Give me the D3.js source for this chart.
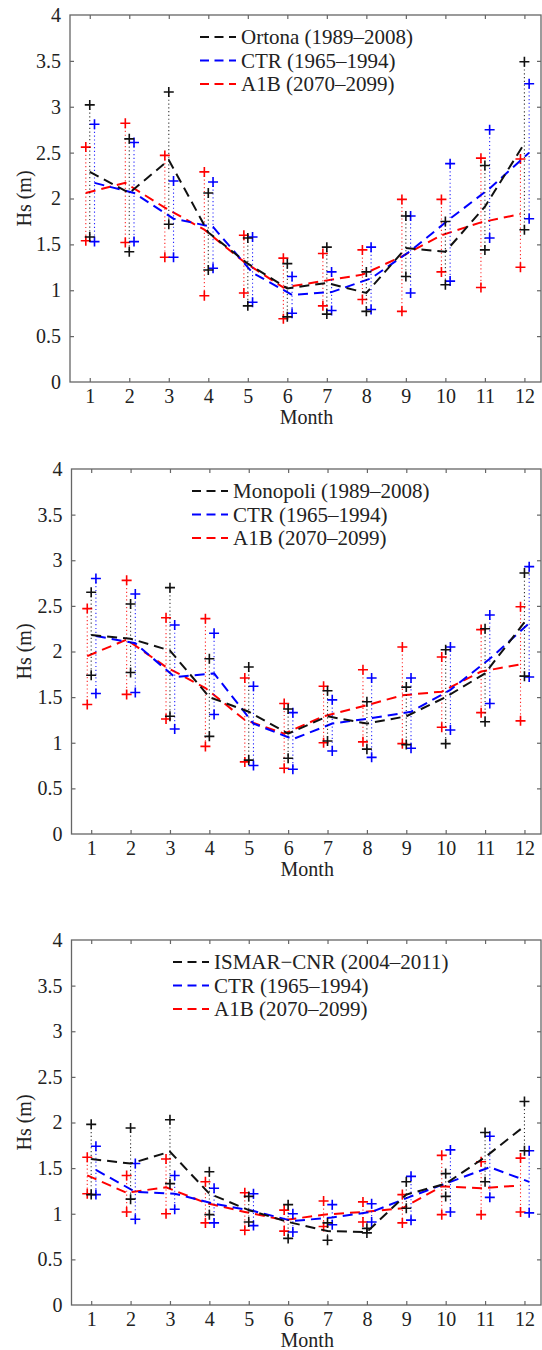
<!DOCTYPE html>
<html><head><meta charset="utf-8">
<script src="https://cdn.jsdelivr.net/npm/d3@7"></script>
<style>body{margin:0;background:#fff}svg{display:block}svg text{font-family:"Liberation Serif","Times New Roman",Times,"DejaVu Serif",serif !important}</style>
</head><body>
<script>
const months = [1,2,3,4,5,6,7,8,9,10,11,12];
const yTicks = [0,0.5,1,1.5,2,2.5,3,3.5,4];
const legendLabels1 = ["Ortona (1989\u20132008)", "CTR (1965\u20131994)", "A1B (2070\u20132099)"];
const legendLabels2 = ["Monopoli (1989\u20132008)", "CTR (1965\u20131994)", "A1B (2070\u20132099)"];
const legendLabels3 = ["ISMAR\u2212CNR (2004\u20132011)", "CTR (1965\u20131994)", "A1B (2070\u20132099)"];

// Panel 1: Ortona
const ortObsMean = [2.29,2.06,2.42,1.63,1.29,1.02,1.08,0.97,1.46,1.42,1.91,2.60];
const ortObsMax  = [3.02,2.65,3.16,2.06,1.57,1.29,1.47,1.20,1.81,1.75,2.36,3.49];
const ortObsMin  = [1.58,1.42,1.72,1.22,0.83,0.71,0.74,0.77,1.15,1.06,1.44,1.66];
const ortCtrMean = [2.17,2.06,1.78,1.69,1.19,0.95,0.98,1.13,1.43,1.78,2.11,2.50];
const ortCtrMax  = [2.81,2.61,2.19,2.18,1.58,1.15,1.20,1.47,1.81,2.38,2.75,3.25];
const ortCtrMin  = [1.53,1.53,1.36,1.24,0.87,0.75,0.78,0.79,0.97,1.10,1.57,1.78];
const ortA1bMean = [2.06,2.17,1.90,1.66,1.31,1.03,1.10,1.17,1.37,1.60,1.74,1.83];
const ortA1bMax  = [2.56,2.82,2.47,2.29,1.60,1.35,1.40,1.44,1.99,1.99,2.44,2.43];
const ortA1bMin  = [1.54,1.52,1.36,0.94,0.97,0.69,0.83,0.90,0.77,1.20,1.03,1.25];

// Panel 2: Monopoli
const monObsMean = [2.18,2.14,2.01,1.50,1.34,1.10,1.29,1.21,1.29,1.50,1.76,2.32];
const monObsMax  = [2.65,2.52,2.70,1.92,1.83,1.37,1.57,1.45,1.61,2.02,2.25,2.86];
const monObsMin  = [1.74,1.77,1.29,1.07,0.81,0.83,1.02,0.93,0.98,0.99,1.23,1.73];
const monCtrMean = [2.17,2.09,1.72,1.76,1.21,1.04,1.21,1.27,1.34,1.58,1.92,2.31];
const monCtrMax  = [2.80,2.63,2.29,2.20,1.62,1.33,1.47,1.71,1.71,2.05,2.40,2.93];
const monCtrMin  = [1.54,1.55,1.15,1.31,0.75,0.71,0.91,0.84,0.94,1.14,1.43,1.72];
const monA1bMean = [1.95,2.13,1.83,1.60,1.25,1.10,1.29,1.40,1.52,1.56,1.78,1.86];
const monA1bMax  = [2.47,2.78,2.37,2.36,1.71,1.43,1.62,1.80,2.05,1.94,2.24,2.49];
const monA1bMin  = [1.42,1.53,1.26,0.96,0.79,0.72,1.00,1.01,0.99,1.17,1.33,1.24];

// Panel 3: ISMAR-CNR
const isObsMean = [1.60,1.55,1.68,1.22,1.04,0.91,0.81,0.80,1.21,1.33,1.62,1.96];
const isObsMax  = [1.98,1.94,2.03,1.46,1.19,1.10,0.90,0.84,1.35,1.44,1.89,2.23];
const isObsMin  = [1.21,1.16,1.33,0.99,0.91,0.73,0.71,0.79,1.06,1.19,1.35,1.69];
const isCtrMean = [1.48,1.24,1.22,1.11,1.03,0.92,0.96,1.02,1.19,1.35,1.51,1.35];
const isCtrMax  = [1.74,1.55,1.42,1.28,1.22,1.00,1.10,1.11,1.41,1.70,1.85,1.69];
const isCtrMin  = [1.21,0.94,1.05,0.90,0.87,0.80,0.88,0.91,0.93,1.02,1.18,1.01];
const isA1bMean = [1.42,1.23,1.29,1.12,1.02,0.93,0.99,1.02,1.06,1.30,1.28,1.31];
const isA1bMax  = [1.62,1.42,1.60,1.35,1.23,1.04,1.14,1.13,1.21,1.64,1.57,1.61];
const isA1bMin  = [1.22,1.02,1.00,0.90,0.82,0.81,0.86,0.91,0.90,0.99,0.99,1.02];

const panels = [
  {left:70, top:15, bottom:382, legendX:200, legendY:37, labels:legendLabels1,
   series:[[ortObsMean,ortObsMax,ortObsMin],[ortCtrMean,ortCtrMax,ortCtrMin],[ortA1bMean,ortA1bMax,ortA1bMin]]},
  {left:71.5, top:469, bottom:834, legendX:192, legendY:491, labels:legendLabels2,
   series:[[monObsMean,monObsMax,monObsMin],[monCtrMean,monCtrMax,monCtrMin],[monA1bMean,monA1bMax,monA1bMin]]},
  {left:71.5, top:940, bottom:1305, legendX:173, legendY:962, labels:legendLabels3,
   series:[[isObsMean,isObsMax,isObsMin],[isCtrMean,isCtrMax,isCtrMin],[isA1bMean,isA1bMax,isA1bMin]]}
];
const colors = ["#111", "#0000ff", "#ff0000"];
const offsets = [0, 0.12, -0.1];
const right = 541;
const FONT = "'Liberation Serif','Times New Roman',Times,'DejaVu Serif',serif";

const svg = d3.select("body").append("svg").attr("width",542).attr("height",1350);

panels.forEach(p => {
  const x = d3.scaleLinear().domain([0.5, 12.42]).range([p.left, right]);
  const y = d3.scaleLinear().domain([0, 4]).range([p.bottom, p.top]);
  const g = svg.append("g");
  const axColor = "#666";

  g.append("rect").attr("x",p.left).attr("y",p.top).attr("width",right-p.left).attr("height",p.bottom-p.top)
    .attr("fill","none").attr("stroke",axColor).attr("stroke-width",1.3);

  const xb = g.append("g").attr("transform",`translate(0,${p.bottom})`)
    .call(d3.axisBottom(x).tickValues(months).tickSizeInner(-4).tickSizeOuter(0).tickPadding(7));
  const xt = g.append("g").attr("transform",`translate(0,${p.top})`)
    .call(d3.axisTop(x).tickValues(months).tickSizeInner(-4).tickSizeOuter(0).tickFormat(""));
  const yl = g.append("g").attr("transform",`translate(${p.left},0)`)
    .call(d3.axisLeft(y).tickValues(yTicks).tickSizeInner(-4).tickSizeOuter(0).tickPadding(9).tickFormat(d3.format("~g")));
  const yr = g.append("g").attr("transform",`translate(${right},0)`)
    .call(d3.axisRight(y).tickValues(yTicks).tickSizeInner(-4).tickSizeOuter(0).tickFormat(""));
  [xb,xt,yl,yr].forEach(a => {
    a.attr("font-family", FONT).attr("font-size", 20);
    a.select(".domain").remove();
    a.selectAll("line").attr("stroke",axColor).attr("stroke-width",1.2);
    a.selectAll("text").attr("font-size",20).attr("fill","#222").style("font-family",FONT);
  });
  yl.selectAll(".tick line").filter(d => d===0||d===4).remove();
  yr.selectAll(".tick line").filter(d => d===0||d===4).remove();

  g.append("text").attr("x",(p.left+right)/2 + 1).attr("y",p.bottom+42).attr("text-anchor","middle")
    .attr("font-size",20).attr("fill","#222").style("font-family",FONT).text("Month");
  g.append("text").attr("transform",`translate(31,${(p.top+p.bottom)/2}) rotate(-90)`).attr("text-anchor","middle")
    .attr("font-size",20).attr("fill","#222").style("font-family",FONT).text("Hs (m)");

  [2,1,0].forEach(si => {
    const [mean, mx, mn] = p.series[si];
    const c = colors[si], off = offsets[si];
    const sg = g.append("g");
    sg.selectAll("line.rng").data(months).join("line")
      .attr("x1", (m) => x(m+off)).attr("x2", (m) => x(m+off))
      .attr("y1", (m,i) => y(mx[i])).attr("y2", (m,i) => y(mn[i]))
      .attr("stroke", c).attr("stroke-width",1.1).attr("stroke-dasharray","1.2,2.6").attr("opacity",0.85);
    const line = d3.line().x((m) => x(m+off)).y((m,i) => y(mean[i]));
    sg.append("path").datum(months).attr("d", line).attr("fill","none")
      .attr("stroke", c).attr("stroke-width",2).attr("stroke-dasharray","10,6");
    const plus = (cx,cy) => `M${cx-5},${cy}H${cx+5}M${cx},${cy-5}V${cy+5}`;
    [mx, mn].forEach(arr => {
      sg.selectAll(null).data(months).join("path")
        .attr("d", (m,i) => plus(x(m+off), y(arr[i])))
        .attr("stroke", c).attr("stroke-width",1.6).attr("fill","none");
    });
  });

  p.labels.forEach((lab, i) => {
    const ly = p.legendY + i*23.5;
    g.append("line").attr("x1",p.legendX).attr("x2",p.legendX+36).attr("y1",ly).attr("y2",ly)
      .attr("stroke",colors[i]).attr("stroke-width",2).attr("stroke-dasharray","9,5.5");
    g.append("text").attr("x",p.legendX+41).attr("y",ly+7).attr("font-size",21).attr("fill","#222")
      .style("font-family",FONT).text(lab);
  });
});
</script>
</body></html>
